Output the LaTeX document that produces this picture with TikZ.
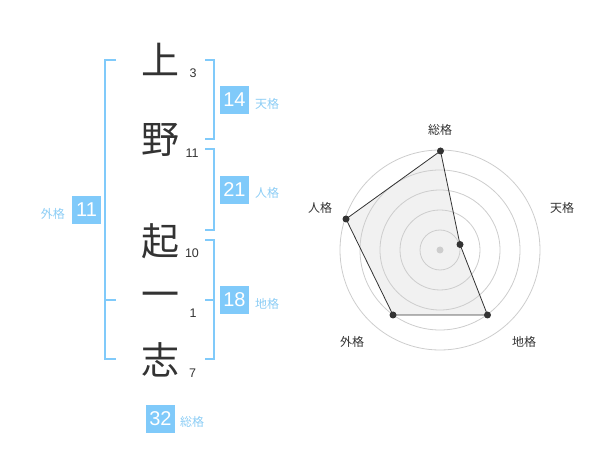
\documentclass[tikz,border=0pt]{standalone}
\usepackage{fontspec}
\setmainfont{Liberation Sans}
\newfontfamily\jp{Noto Sans CJK JP}
\definecolor{ink}{RGB}{51,51,51}
\definecolor{sky}{RGB}{128,202,250}
\definecolor{skytext}{RGB}{140,205,245}
\definecolor{ring}{RGB}{205,205,205}
\definecolor{area}{RGB}{241,241,241}
\begin{document}
\begin{tikzpicture}[x=1pt,y=-1pt,
  kanji/.style={font=\jp\fontsize{38}{38}\selectfont, text=ink, inner sep=0pt},
  strokenum/.style={font=\fontsize{12.5}{12.5}\selectfont, text=ink, inner sep=0pt},
  numbox/.style={fill=sky, text=white, font=\fontsize{20}{20}\selectfont, minimum width=29pt, minimum height=28pt, inner sep=0pt},
  kaku/.style={font=\jp\fontsize{12}{12}\selectfont, text=skytext, inner sep=0pt},
  bracket/.style={draw=sky, line width=2pt},
  axislabel/.style={font=\jp\fontsize{12}{12}\selectfont, text=ink, inner sep=0pt},
  ringline/.style={draw=ring, line width=0.8pt},
  vdot/.style={circle, fill=ink, inner sep=0pt, minimum size=7pt}]
\useasboundingbox (0,0) rectangle (600,470);
% kanji
\node[kanji] (k1) at (160,59) {上};
\node[kanji] (k2) at (160,140) {野};
\node[kanji] (k3) at (160,241) {起};
\node[kanji] (k4) at (160,300) {一};
\node[kanji] (k5) at (160,360) {志};
% stroke counts
\node[strokenum] (s1) at (193,73) {3};
\node[strokenum] (s2) at (192,153) {11};
\node[strokenum] (s3) at (192,253) {10};
\node[strokenum] (s4) at (193,313) {1};
\node[strokenum] (s5) at (192.5,373) {7};
% brackets
\draw[bracket] (116,60) -- (105,60) -- (105,359) -- (116,359);
\draw[bracket] (105,300) -- (116,300);
\draw[bracket] (205,60) -- (214,60) -- (214,139) -- (205,139);
\draw[bracket] (205,149) -- (214,149) -- (214,230) -- (205,230);
\draw[bracket] (205,240) -- (214,240) -- (214,359) -- (205,359);
\draw[bracket] (205,300) -- (214,300);
% boxes
\node[numbox] (ten) at (234.5,100) {14};
\node[kaku, anchor=west] (tenl) at (255,104) {天格};
\node[numbox] (jin) at (234.5,190) {21};
\node[kaku, anchor=west] (jinl) at (255,193) {人格};
\node[numbox] (chi) at (234.5,300) {18};
\node[kaku, anchor=west] (chil) at (255,304) {地格};
\node[numbox] (gai) at (86.5,210) {11};
\node[kaku, anchor=east] (gail) at (65,214) {外格};
\node[numbox] (sou) at (160.5,419) {32};
\node[kaku, anchor=west] (soul) at (180,422) {総格};
% radar
\coordinate (c) at (440,250);
\coordinate (p1) at (440.5,151);
\coordinate (p2) at (460,244.5);
\coordinate (p3) at (487.5,315);
\coordinate (p4) at (393,315);
\coordinate (p5) at (346,219);
\fill[area] (p1) -- (p2) -- (p3) -- (p4) -- (p5) -- cycle;
\foreach \r in {20,40,60,80,100} \draw[ringline] (c) circle[radius=\r];
\fill[ring] (c) circle[radius=3.5];
\draw[draw=ink, line width=0.8pt] (p1) -- (p2) -- (p3) -- (p4) -- (p5) -- cycle;
\foreach \p in {p1,p2,p3,p4,p5} \node[vdot] at (\p) {};
\node[axislabel] (a1) at (440,130) {総格};
\node[axislabel] (a2) at (562,208) {天格};
\node[axislabel] (a3) at (524,342) {地格};
\node[axislabel] (a4) at (352,342) {外格};
\node[axislabel] (a5) at (320,208) {人格};
\end{tikzpicture}
\end{document}
